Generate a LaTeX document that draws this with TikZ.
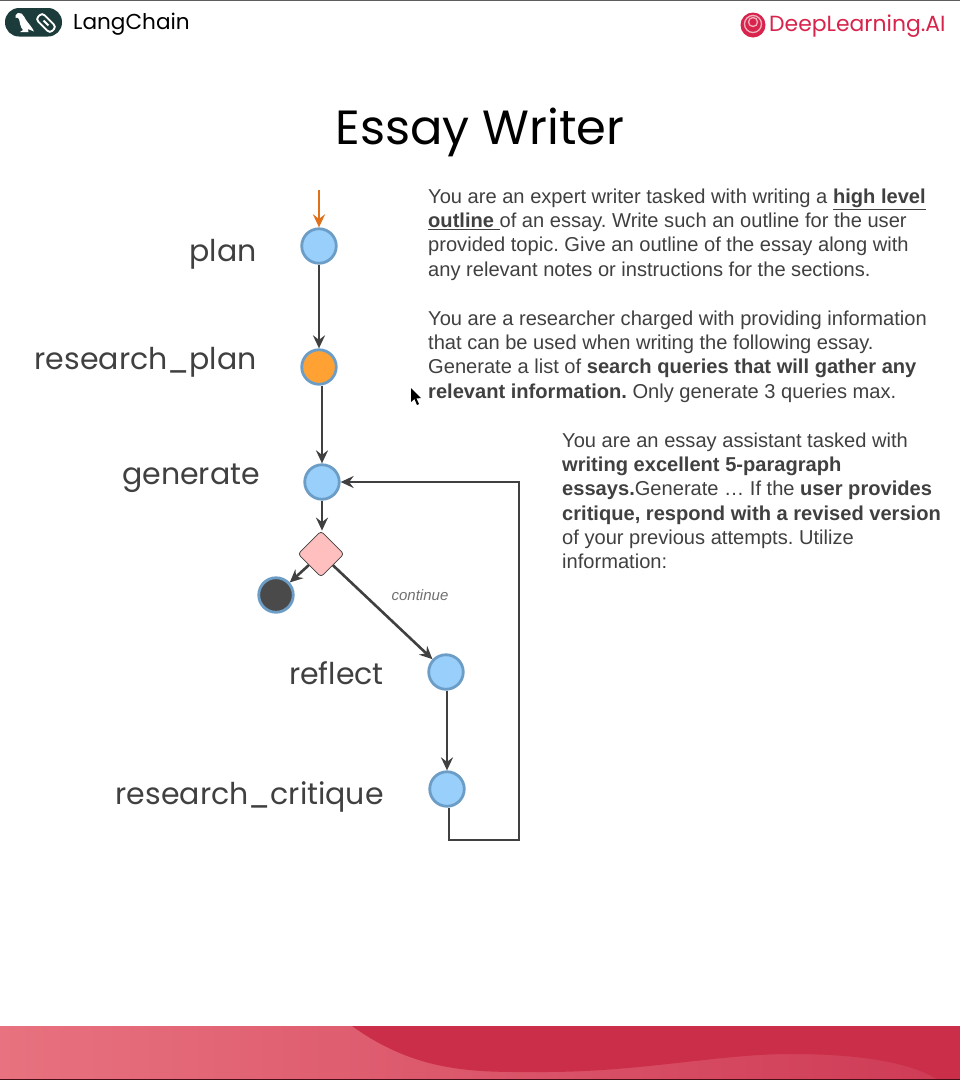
\documentclass[tikz,border=0pt]{standalone}
\usepackage{fontspec}
\setmainfont{Liberation Sans}
\newfontfamily\popfont{Poppins}
\usepackage{xcolor}
\usetikzlibrary{arrows.meta,calc,positioning,shapes.geometric}
\definecolor{nodeblue}{HTML}{99CFFB}
\definecolor{edgeblue}{HTML}{6C9DC6}
\definecolor{nodeorange}{HTML}{FFA233}
\definecolor{nodepink}{HTML}{FFBFBF}
\definecolor{nodedark}{HTML}{4A4A4A}
\definecolor{inkgrey}{HTML}{404040}
\definecolor{startorange}{HTML}{E0701A}
\definecolor{lcgreen}{HTML}{1C3C3C}
\definecolor{dlred}{HTML}{D8244C}
\definecolor{bandleft}{HTML}{E8727F}
\definecolor{bandmid}{HTML}{E06072}
\definecolor{bandright}{HTML}{CE3A55}
\definecolor{bandred}{HTML}{CB2E48}
\tikzset{
  flownode/.style={circle,draw=edgeblue,line width=2.8pt,fill=nodeblue,minimum size=34.5pt,inner sep=0pt},
  flowedge/.style={draw=inkgrey,line width=2.6pt,-{Stealth[length=13pt,width=12pt,inset=4.5pt]}},
  flowlabel/.style={font=\popfont\fontsize{30}{36}\selectfont,text=inkgrey,inner sep=0pt},
  bodytext/.style={font=\fontsize{20.1}{24.3}\selectfont\frenchspacing,text=inkgrey,align=left,anchor=north west,inner sep=0pt},
}
\begin{document}
\begin{tikzpicture}[x=1pt,y=-1pt]
\useasboundingbox (0,0) rectangle (960,1080);
\fill[white] (0,0) rectangle (960,1080);
\fill[inkgrey!85] (0,0) rectangle (960,1.3);
% header logos
\fill[lcgreen,rounded corners=14pt] (5,8) rectangle (62,36.5);
\fill[white] (15.5,15.5) .. controls (16,13) and (19,12) .. (21.5,13.5) .. controls (24,15) and (24.5,18) .. (26,20) .. controls (28.5,23.5) and (32,27) .. (34,31.5) -- (28,29) -- (28.5,32) -- (20,32) -- (23,30) .. controls (20,27) and (20,22) .. (19,19) .. controls (18,17.5) and (16.5,17) .. (15.5,18) -- cycle;
\draw[white,line width=1.9pt,rounded corners=3.5pt,rotate around={-45:(46,23)}] (36,18.5) rectangle (56,27.5);
\draw[white,line width=1.9pt,rotate around={-45:(46,23)}] (42.5,23) -- (49.5,23);
\node[font=\popfont\fontsize{21.6}{26}\selectfont,text=black,anchor=west,inner sep=0pt] (lclogo) at (73,24.5) {LangChain};
\fill[dlred] (753,25) circle (12.5);
\draw[white!65!dlred,line width=1.3pt] (753,24) circle (8.5);
\draw[white!65!dlred,line width=1.3pt] (753,22) circle (4.5);
\node[font=\popfont\fontsize{21.9}{26}\selectfont,text=dlred,anchor=west,inner sep=0pt] (dllogo) at (769,26) {DeepLearning.AI};
% title
\node[font=\popfont\fontsize{48}{56}\selectfont,text=black,inner sep=0pt] (title) at (480,132) {Essay Writer};
% graph
\coordinate (start) at (319,190);
\node[flownode] (plan) at (319,246) {};
\node[flownode,fill=nodeorange] (rplan) at (319,367) {};
\node[flownode] (gen) at (322,482) {};
\node[diamond,rounded corners=3pt,draw=inkgrey,line width=0.8pt,fill=nodepink,minimum size=46pt,inner sep=0pt] (check) at (321,554) {};
\node[flownode,fill=nodedark] (done) at (276,595) {};
\node[flownode] (reflect) at (446,672) {};
\node[flownode] (rcrit) at (447,789) {};
\coordinate (c1) at (449,840);
\coordinate (c2) at (519,840);
\coordinate (c3) at (519,482);
\node[flowlabel,anchor=east] (planlabel) at (257,254) {plan};
\node[flowlabel,anchor=east] (rplanlabel) at (257,362) {research\_plan};
\node[flowlabel,anchor=east] (genlabel) at (260,478) {generate};
\node[flowlabel,anchor=east] (reflectlabel) at (384,673) {reflect};
\node[flowlabel,anchor=east] (rcritlabel) at (384,797) {research\_critique};
\draw[flowedge,draw=startorange] (start) -- (plan.north);
\draw[flowedge] (plan) -- (rplan);
\draw[flowedge] (gen |- rplan.south) -- (gen.north);
\draw[flowedge] (gen) -- (gen |- check.north);
\draw[flowedge] (check) -- (done);
\draw[flowedge] (check) -- (reflect);
\draw[flowedge] (rcrit |- reflect.south) -- (rcrit.north);
\draw[flowedge] (c1 |- rcrit.south) -- (c1) -- (c2) -- (c3) -- (gen.east);
\node[font=\itshape\fontsize{15}{17}\selectfont,text=inkgrey!75,inner sep=0pt] (continue) at (420,595) {continue};
% prompts
\node[bodytext] (prompta) at (428,188.5) {You are an expert writer tasked with writing a \underline{\textbf{high level}}\\ \underline{\textbf{outline }}of an essay. Write such an outline for the user\\provided topic. Give an outline of the essay along with\\any relevant notes or instructions for the sections.};
\node[bodytext] (promptb) at (428,310.5) {You are a researcher charged with providing information\\that can be used when writing the following essay.\\Generate a list of \textbf{search queries that will gather any}\\\textbf{relevant information.} Only generate 3 queries max.};
\node[bodytext] (promptc) at (562,432.5) {You are an essay assistant tasked with\\\textbf{writing excellent 5-paragraph}\\\textbf{essays.}Generate … If the \textbf{user provides}\\\textbf{critique, respond with a revised version}\\of your previous attempts. Utilize\\information:};
% cursor
\fill[black] (411,388) -- (411,402) -- (414.5,399) -- (417,405) -- (419,404) -- (416.5,398.5) -- (421,398) -- cycle;
% footer band
\shade[left color=bandleft,middle color=bandmid,right color=bandright] (0,1026) rectangle (960,1079);
\fill[bandred] (352,1026) .. controls (420,1075) and (480,1072) .. (545,1072) .. controls (640,1072) and (720,1054) .. (790,1054) .. controls (850,1054) and (905,1060) .. (937,1079) -- (960,1079) -- (960,1026) -- cycle;
\fill[black!65!bandred] (0,1078.8) rectangle (960,1080);
\end{tikzpicture}
\end{document}
